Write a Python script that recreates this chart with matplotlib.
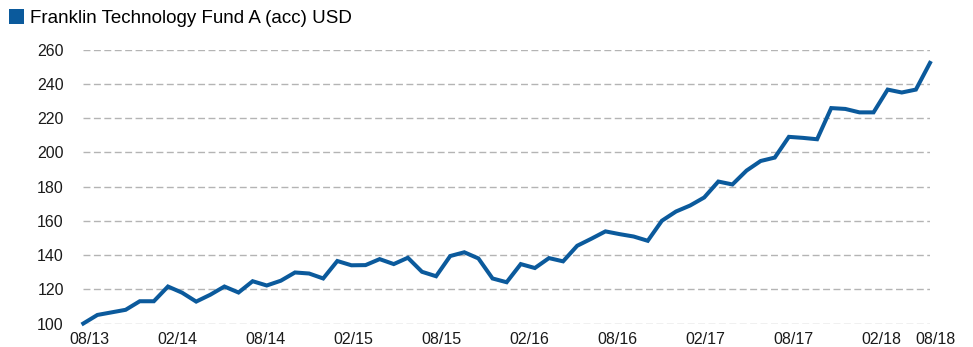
import matplotlib.pyplot as plt
from matplotlib.patches import Patch
import matplotlib.transforms as mtransforms

# valores mensuales del fondo (base 100 en 08/13)
fondo = "Franklin Technology Fund A (acc) USD"
valores = [
    100, 105, 106.5, 108, 113, 113, 121.6, 118, 112.8, 116.8,
    121.6, 118.1, 124.7, 122.2, 125, 129.8, 129.2, 126.3, 136.5, 134,
    134.1, 137.6, 134.7, 138.4, 130.2, 127.6, 139.4, 141.6, 138, 126.3,
    124.1, 134.7, 132.4, 138.2, 136.3, 145.4, 149.5, 153.8, 152.2, 150.8,
    148.3, 160, 165.4, 168.9, 173.6, 182.9, 181.2, 189.3, 194.9, 196.9,
    209, 208.4, 207.6, 225.8, 225.3, 223.3, 223.3, 236.6, 234.9, 236.6,
    252.2,
]
etiquetas_x = ["08/13", "02/14", "08/14", "02/15", "08/15", "02/16",
               "08/16", "02/17", "08/17", "02/18", "08/18"]
posiciones_x = [i * 6.235 for i in range(10)] + [60]
ticks_y = [100, 120, 140, 160, 180, 200, 220, 240, 260]

azul = "#0b5a9c"
plt.rcParams["font.family"] = ["Liberation Sans", "DejaVu Sans"]

fig = plt.figure(figsize=(9.73, 3.47), dpi=100)
ax = fig.add_axes([0.0856, 0.0677, 0.8702, 0.7896])

ax.plot(range(len(valores)), valores, color=azul, linewidth=2.9,
        solid_joinstyle="miter", clip_on=False, zorder=3)

ax.set_xlim(0, len(valores) - 1)
ax.set_ylim(100, 260)
ax.set_yticks(ticks_y)
ax.set_xticks(posiciones_x)
ax.set_xticklabels(etiquetas_x)

# rejilla horizontal punteada
for v in ticks_y:
    ax.axhline(v, color="#b4b4b4", linewidth=1.0, linestyle=(0, (5, 2.5)), zorder=1)

for s in ax.spines.values():
    s.set_visible(False)
ax.tick_params(axis="y", length=0, pad=14, labelsize=11.5, colors="#1a1a1a")
ax.tick_params(axis="x", length=0, pad=6, labelsize=11.5, colors="#1a1a1a")

# etiquetas del eje x algo corridas a la derecha
desplazo = mtransforms.ScaledTranslation(6 / 100, 0, fig.dpi_scale_trans)
for lbl in ax.get_xticklabels():
    lbl.set_transform(lbl.get_transform() + desplazo)

leyenda = [Patch(facecolor=azul, edgecolor="none", label=fondo)]
fig.legend(handles=leyenda, loc="upper left", bbox_to_anchor=(0.0, 1.0),
           frameon=False, fontsize=13.5, handlelength=0.8, handleheight=0.8,
           handletextpad=0.3, borderpad=0.3, borderaxespad=0.2)

fig.savefig("out.png", dpi=100)
